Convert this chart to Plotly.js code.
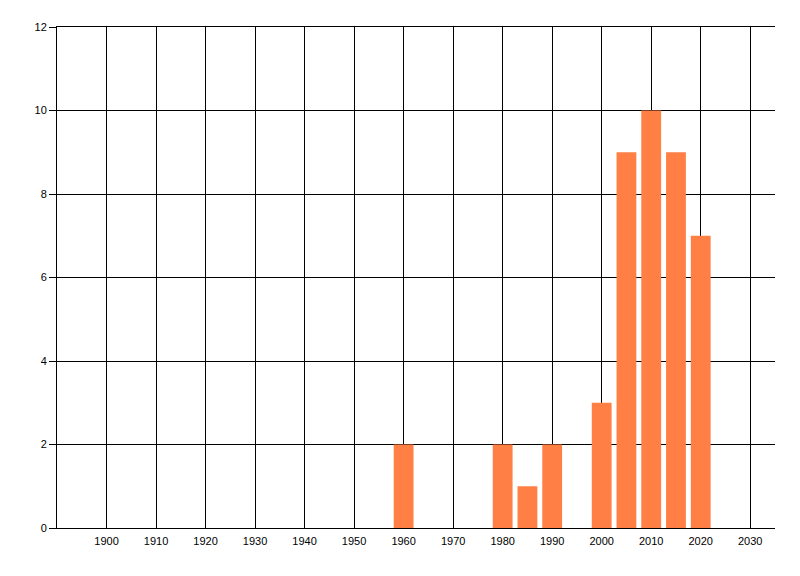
<!DOCTYPE html>
<html>
<head>
<meta charset="utf-8">
<script src="https://cdn.plot.ly/plotly-3.0.1.min.js"></script>
<style>
  html, body { margin: 0; padding: 0; background: #fff; }
  #chart { width: 800px; height: 576px; }
</style>
</head>
<body>
<div id="chart"></div>
<script>
// ── Data ─────────────────────────────────────────────
const YEARS  = [1960, 1980, 1985, 1990, 2000, 2005, 2010, 2015, 2020];
const COUNTS = [2, 2, 1, 2, 3, 9, 10, 9, 7];
const X_TICKS = [1900, 1910, 1920, 1930, 1940, 1950, 1960, 1970, 1980, 1990, 2000, 2010, 2020, 2030];
const Y_TICKS = [0, 2, 4, 6, 8, 10, 12];

const BAR = '#ff7f44';
const FONT = { family: 'Liberation Sans, Arial, sans-serif', size: 11, color: '#000' };

const trace = {
  type: 'bar',
  x: YEARS,
  y: COUNTS,
  width: 4,
  marker: { color: BAR, line: { width: 0 } },
  hoverinfo: 'x+y',
};

const layout = {
  width: 800, height: 576,
  paper_bgcolor: '#fff',
  plot_bgcolor: '#fff',
  font: FONT,
  showlegend: false,
  margin: { l: 57, r: 25, t: 27, b: 48 },
  xaxis: {
    range: [1890, 2035],
    tickvals: X_TICKS,
    ticktext: X_TICKS.map(String),
    showgrid: true, gridcolor: '#000', gridwidth: 1,
    showline: true, linecolor: '#000', linewidth: 1, mirror: true,
    ticks: 'outside', ticklen: 3, tickcolor: 'rgba(0,0,0,0)',
    zeroline: false,
    tickfont: FONT,
  },
  yaxis: {
    range: [0, 12],
    tickvals: Y_TICKS,
    showgrid: true, gridcolor: '#000', gridwidth: 1,
    showline: true, linecolor: '#000', linewidth: 1,
    ticks: 'outside', ticklen: 7, tickcolor: '#000', tickwidth: 1,
    zeroline: false,
    tickfont: FONT,
  },
};

Plotly.newPlot('chart', [trace], layout, { displayModeBar: false, staticPlot: true });
</script>
</body>
</html>
